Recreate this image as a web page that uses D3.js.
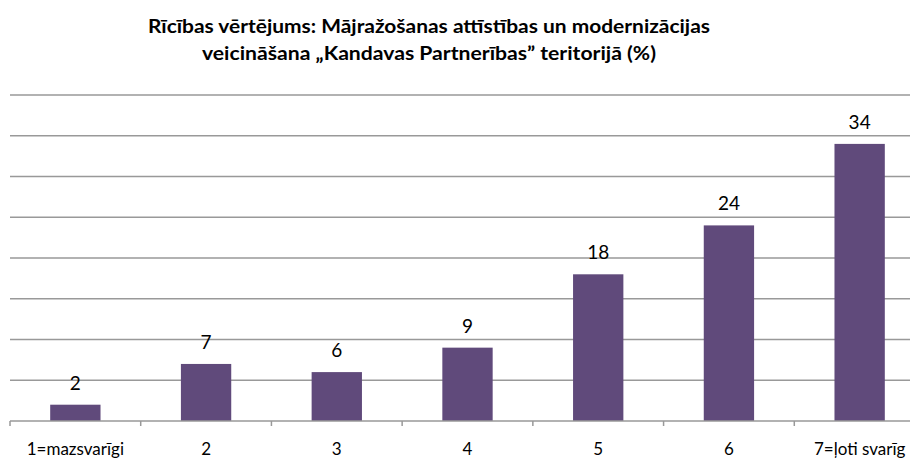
<!DOCTYPE html>
<html><head><meta charset="utf-8">
<script src="https://cdn.jsdelivr.net/npm/d3@7/dist/d3.min.js"></script>
<style>body{margin:0;background:#fff}svg{display:block}</style>
</head><body>
<svg id="c" width="910" height="460"></svg>
<script>
const categories = ["1=mazsvarīgi","2","3","4","5","6","7=ļoti svarīg"];
const values = [2,7,6,9,18,24,34];
const yTicks = [0,5,10,15,20,25,30,35,40];
const titleLines = ["Rīcības vērtējums:  Mājražošanas attīstības un modernizācijas","veicināšana „Kandavas Partnerības” teritorijā (%)"];

const svg = d3.select("#c");
const pLeft = 10, pRight = 925, pTop = 95, pBottom = 421;
const x = d3.scaleBand().domain(categories).range([pLeft, pRight]).paddingInner(0.615).paddingOuter(0.3075);
const y = d3.scaleLinear().domain([0,40]).range([pBottom, pTop]);

svg.append("g").selectAll("line").data(yTicks.slice(1)).join("line")
  .attr("x1", pLeft).attr("x2", 910).attr("y1", d=>y(d)).attr("y2", d=>y(d))
  .attr("stroke", "#999").attr("stroke-width", 1.5);

svg.append("g").selectAll("rect").data(values).join("rect")
  .attr("x", (d,i)=>x(categories[i])).attr("width", x.bandwidth())
  .attr("y", d=>y(d)).attr("height", d=>y(0)-y(d)).attr("fill", "#604A7B");

const step = x.step();
svg.append("line").attr("x1", pLeft).attr("x2", 910).attr("y1", pBottom).attr("y2", pBottom)
  .attr("stroke", "#999").attr("stroke-width", 1.5);
svg.append("g").selectAll("line").data(d3.range(categories.length+1)).join("line")
  .attr("x1", i=>pLeft + i*step).attr("x2", i=>pLeft + i*step)
  .attr("y1", pBottom).attr("y2", pBottom+5).attr("stroke", "#999").attr("stroke-width", 1.5);

svg.append("g").selectAll("text").data(categories).join("text")
  .attr("x", d=>x(d)+x.bandwidth()/2).attr("y", 455)
  .attr("text-anchor", "middle").attr("font-family", "Lato, 'Open Sans', sans-serif")
  .attr("font-size", 17).attr("fill", "#000").text(d=>d);

svg.append("g").selectAll("text").data(values).join("text")
  .attr("x", (d,i)=>x(categories[i])+x.bandwidth()/2).attr("y", d=>y(d)-15)
  .attr("text-anchor", "middle").attr("font-family", "Lato, 'Open Sans', sans-serif")
  .attr("font-size", 19).attr("fill", "#000").text(d=>d);

svg.append("g").selectAll("text").data(titleLines).join("text")
  .attr("x", 429).attr("y", (d,i)=>33+i*27)
  .attr("text-anchor", "middle").attr("font-family", "Lato, 'Open Sans', sans-serif")
  .attr("font-weight", "bold").attr("font-size", 19.5).attr("fill", "#000")
  .attr("textLength", (d,i)=>i===0?562:454).attr("lengthAdjust","spacingAndGlyphs")
  .text(d=>d);
</script>
</body></html>
